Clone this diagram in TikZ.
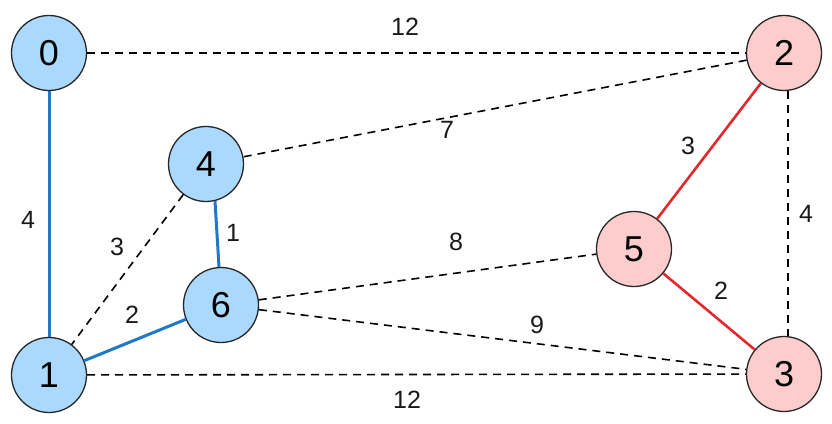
\documentclass[tikz,border=0pt]{standalone}
\usepackage{fontspec}
\setmainfont{Liberation Sans}
\begin{document}
\begin{tikzpicture}[x=1pt,y=1pt,
  vtx/.style={circle, draw=black!85, line width=1.3pt, minimum size=75pt, inner sep=0pt, font=\fontsize{36}{36}\selectfont},
  bluev/.style={vtx, fill=nodeblue},
  redv/.style={vtx, fill=nodered},
  dedge/.style={draw=black, line width=1.6pt, dash pattern=on 8pt off 6pt},
  bedge/.style={draw=edgeblue, line width=3pt},
  redge/.style={draw=edgered, line width=2.6pt},
  lbl/.style={font=\fontsize{25}{25}\selectfont, text=black!90, inner sep=0pt}]
\definecolor{nodeblue}{HTML}{AAD9FD}
\definecolor{nodered}{HTML}{FDCDCD}
\definecolor{edgeblue}{HTML}{1F78C8}
\definecolor{edgered}{HTML}{E3292E}
\useasboundingbox (0,0) rectangle (832,423);
% nodes
\node[bluev] (n0) at (49,370) {0};
\node[redv]  (n2) at (784,370) {2};
\node[bluev] (n4) at (206,259) {4};
\node[bluev] (n6) at (221,118) {6};
\node[redv]  (n5) at (634,174) {5};
\node[bluev] (n1) at (49,48) {1};
\node[redv]  (n3) at (784,49) {3};
% edges
\path[dedge] (n0) -- (n2);
\path[dedge] (n2) -- (n4);
\path[dedge] ([xshift=4pt]n2.south) -- ([xshift=4pt]n3.north);
\path[dedge] (n4) -- (n1);
\path[dedge] (n6) -- (n5);
\path[dedge] (n6) -- (n3);
\path[dedge] (n1) -- (n3);
\path[bedge] (n0) -- (n1);
\path[bedge] ([xshift=9pt,yshift=1pt]n4.south) -- ([xshift=-2pt]n6.north);
\path[bedge] (n6) -- (n1);
\path[redge] (n2) -- (n5);
\path[redge] (n5) -- (n3);
% labels
\node[lbl] (l02) at (405,396) {12};
\node[lbl] (l01) at (28,203) {4};
\node[lbl] (l24) at (447,293) {7};
\node[lbl] (l25) at (688,277) {3};
\node[lbl] (l23) at (806,209) {4};
\node[lbl] (l46) at (233,190) {1};
\node[lbl] (l41) at (117,176) {3};
\node[lbl] (l65) at (456,181) {8};
\node[lbl] (l61) at (132,108) {2};
\node[lbl] (l63) at (537,98) {9};
\node[lbl] (l53) at (721,132) {2};
\node[lbl] (l13) at (407,23) {12};
\end{tikzpicture}
\end{document}
